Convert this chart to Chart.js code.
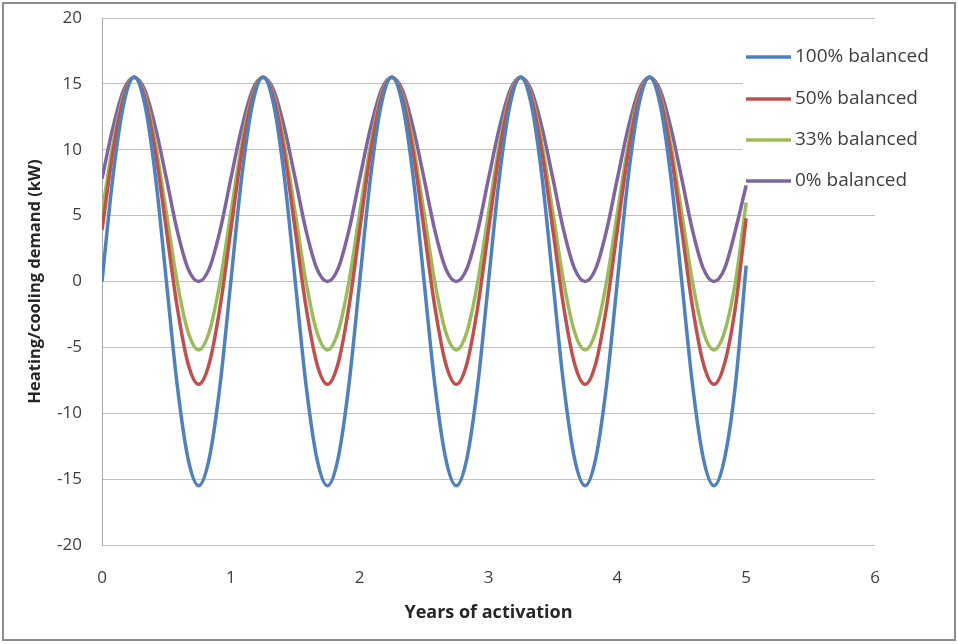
<!DOCTYPE html>
<html lang="en">
<head>
    <meta charset="UTF-8">
    <title>Heating/cooling demand</title>
    <script src="https://cdn.jsdelivr.net/npm/chart.js"></script>
    <style>
        body { margin: 0; background: white; }
        canvas { display: block; }
    </style>
</head>
<body>
    <canvas id="demandChart" width="958" height="644"></canvas>

    <script>
        // years of activation (monthly samples)
        const years = [
            0, 0.083, 0.167, 0.25, 0.333, 0.417, 0.5, 0.583, 0.667, 0.75, 0.833, 0.917,
            1, 1.083, 1.167, 1.25, 1.333, 1.417, 1.5, 1.583, 1.667, 1.75, 1.833, 1.917,
            2, 2.083, 2.167, 2.25, 2.333, 2.417, 2.5, 2.583, 2.667, 2.75, 2.833, 2.917,
            3, 3.083, 3.167, 3.25, 3.333, 3.417, 3.5, 3.583, 3.667, 3.75, 3.833, 3.917,
            4, 4.083, 4.167, 4.25, 4.333, 4.417, 4.5, 4.583, 4.667, 4.75, 4.833, 4.917,
            5
        ];

        const balanced100 = [
            0, 7.8, 13.4, 15.5, 13.4, 7.8, 0, -7.8, -13.4, -15.5, -13.4, -7.8,
            0, 7.8, 13.4, 15.5, 13.4, 7.8, 0, -7.8, -13.4, -15.5, -13.4, -7.8,
            0, 7.8, 13.4, 15.5, 13.4, 7.8, 0, -7.8, -13.4, -15.5, -13.4, -7.8,
            0, 7.8, 13.4, 15.5, 13.4, 7.8, 0, -7.8, -13.4, -15.5, -13.4, -7.8,
            0, 7.8, 13.4, 15.5, 13.4, 7.8, 0, -7.8, -13.4, -15.5, -13.4, -7.8,
            1.2
        ];
        const balanced50 = [
            3.9, 9.7, 13.9, 15.5, 13.9, 9.7, 3.9, -1.9, -6.2, -7.8, -6.2, -1.9,
            3.9, 9.7, 13.9, 15.5, 13.9, 9.7, 3.9, -1.9, -6.2, -7.8, -6.2, -1.9,
            3.9, 9.7, 13.9, 15.5, 13.9, 9.7, 3.9, -1.9, -6.2, -7.8, -6.2, -1.9,
            3.9, 9.7, 13.9, 15.5, 13.9, 9.7, 3.9, -1.9, -6.2, -7.8, -6.2, -1.9,
            3.9, 9.7, 13.9, 15.5, 13.9, 9.7, 3.9, -1.9, -6.2, -7.8, -6.2, -1.9,
            4.8
        ];
        const balanced33 = [
            5.2, 10.3, 14.1, 15.5, 14.1, 10.3, 5.2, 0, -3.8, -5.2, -3.8, 0,
            5.2, 10.3, 14.1, 15.5, 14.1, 10.3, 5.2, 0, -3.8, -5.2, -3.8, 0,
            5.2, 10.3, 14.1, 15.5, 14.1, 10.3, 5.2, 0, -3.8, -5.2, -3.8, 0,
            5.2, 10.3, 14.1, 15.5, 14.1, 10.3, 5.2, 0, -3.8, -5.2, -3.8, 0,
            5.2, 10.3, 14.1, 15.5, 14.1, 10.3, 5.2, 0, -3.8, -5.2, -3.8, 0,
            6.0
        ];
        const balanced0 = [
            7.8, 11.6, 14.5, 15.5, 14.5, 11.6, 7.8, 3.9, 1.0, 0, 1.0, 3.9,
            7.8, 11.6, 14.5, 15.5, 14.5, 11.6, 7.8, 3.9, 1.0, 0, 1.0, 3.9,
            7.8, 11.6, 14.5, 15.5, 14.5, 11.6, 7.8, 3.9, 1.0, 0, 1.0, 3.9,
            7.8, 11.6, 14.5, 15.5, 14.5, 11.6, 7.8, 3.9, 1.0, 0, 1.0, 3.9,
            7.8, 11.6, 14.5, 15.5, 14.5, 11.6, 7.8, 3.9, 1.0, 0, 1.0, 3.9,
            7.3
        ];

        const seriesLabels = ['100% balanced', '50% balanced', '33% balanced', '0% balanced'];
        const seriesColors = ['#4f81bd', '#c0504d', '#9bbb59', '#8064a2'];
        const seriesData = [balanced100, balanced50, balanced33, balanced0];

        function toPoints(values) {
            return values.map((v, i) => ({ x: years[i], y: v }));
        }

        // Excel style legend sitting inside the plot, with a white box behind it
        const legendBox = {
            id: 'legendBox',
            beforeDatasetsDraw(chart) {
                const ctx = chart.ctx;
                ctx.save();
                ctx.fillStyle = '#ffffff';
                ctx.fillRect(743, 30, 200, 168);
                ctx.restore();
            },
            afterDatasetsDraw(chart) {
                const ctx = chart.ctx;
                const rows = [57, 99, 140, 181];
                ctx.save();
                ctx.font = '19px "Open Sans"';
                ctx.textBaseline = 'middle';
                ctx.textAlign = 'left';
                seriesLabels.forEach((label, i) => {
                    ctx.strokeStyle = seriesColors[i];
                    ctx.lineWidth = 3.5;
                    ctx.beginPath();
                    ctx.moveTo(746, rows[i]);
                    ctx.lineTo(791, rows[i]);
                    ctx.stroke();
                    ctx.fillStyle = '#404040';
                    ctx.fillText(label, 795, rows[i]);
                });
                ctx.restore();
            },
            afterDraw(chart) {
                const ctx = chart.ctx;
                ctx.save();
                ctx.strokeStyle = '#8c8c8c';
                ctx.lineWidth = 2;
                ctx.strokeRect(3, 3, 952, 637);
                ctx.restore();
            }
        };

        const ctx = document.getElementById('demandChart').getContext('2d');
        new Chart(ctx, {
            type: 'line',
            data: {
                datasets: seriesData.map((values, i) => ({
                    label: seriesLabels[i],
                    data: toPoints(values),
                    borderColor: seriesColors[i],
                    backgroundColor: seriesColors[i],
                    borderWidth: 3.5,
                    pointRadius: 0,
                    fill: false,
                    cubicInterpolationMode: 'monotone'
                }))
            },
            options: {
                responsive: false,
                animation: false,
                devicePixelRatio: 1,
                layout: { padding: { left: 0, top: 18, right: 83, bottom: 0 } },
                plugins: {
                    legend: { display: false },
                    tooltip: { enabled: false }
                },
                scales: {
                    x: {
                        type: 'linear',
                        min: 0,
                        max: 6,
                        afterFit: s => { s.height = 99; s.paddingLeft = 0; s.paddingRight = 0; },
                        grid: { display: false },
                        border: { display: false },
                        ticks: {
                            stepSize: 1,
                            padding: 15,
                            color: '#404040',
                            font: { family: 'Open Sans', size: 17 }
                        },
                        title: {
                            display: true,
                            text: 'Years of activation',
                            color: '#262626',
                            font: { family: 'Open Sans', size: 18, weight: 'bold', lineHeight: 1.2 },
                            padding: { top: 0, bottom: 20 }
                        }
                    },
                    y: {
                        min: -20,
                        max: 20,
                        afterFit: s => { s.width = 102; s.paddingTop = 0; s.paddingBottom = 0; },
                        grid: { color: '#c0c0c0', drawTicks: false },
                        border: { display: true, color: '#a6a6a6' },
                        ticks: {
                            stepSize: 5,
                            padding: 20,
                            color: '#404040',
                            font: { family: 'Open Sans', size: 17 }
                        },
                        title: {
                            display: true,
                            text: 'Heating/cooling demand (kW)',
                            color: '#262626',
                            font: { family: 'Open Sans', size: 16.5, weight: 'bold', lineHeight: 1.2 },
                            padding: { top: 25, bottom: 0 }
                        }
                    }
                }
            },
            plugins: [legendBox]
        });
    </script>
</body>
</html>
